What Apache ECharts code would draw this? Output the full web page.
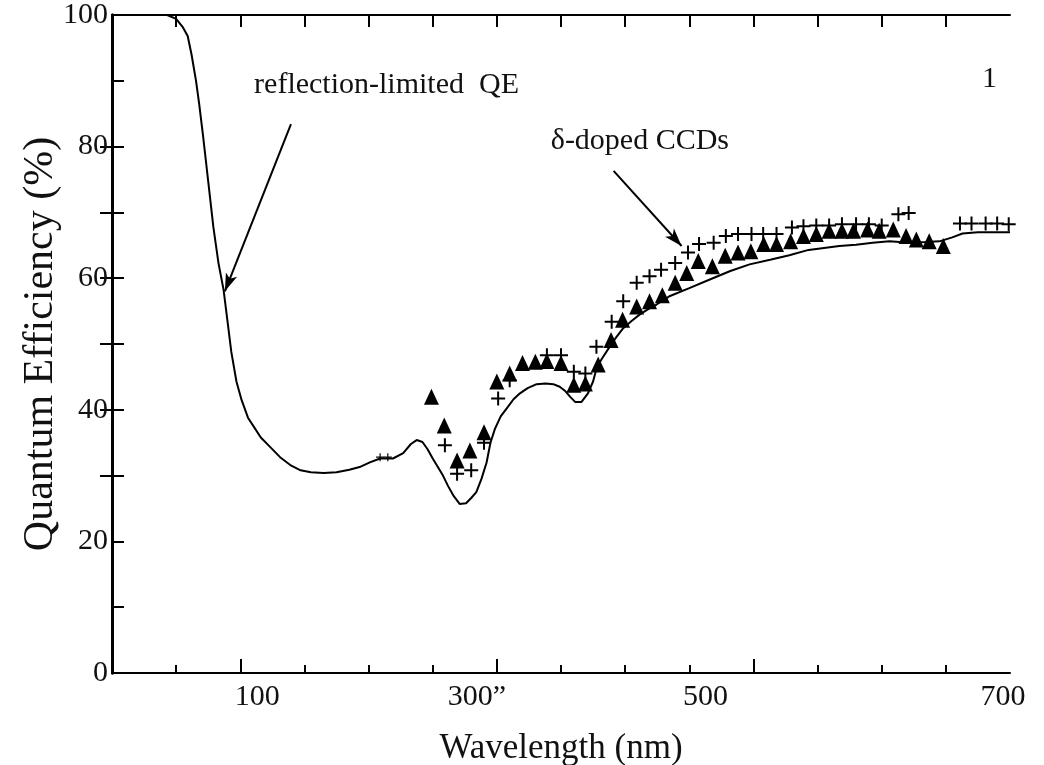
<!DOCTYPE html>
<html>
<head>
<meta charset="utf-8">
<title>Quantum Efficiency vs Wavelength</title>
<script src="https://cdn.jsdelivr.net/npm/echarts@6/dist/echarts.min.js"></script>
<style>
  html, body { margin: 0; padding: 0; background: #fff; }
  #chart { width: 1044px; height: 765px; }
</style>
</head>
<body>
<div id="chart"></div>
<script>
// reflection-limited QE curve: [wavelength nm, QE %]
const reflectionCurve = [
  [30, 100], [43, 100], [50, 99.4], [55, 98.2], [59, 96.8], [62, 94], [65.5, 90], [68, 86.4],
  [71, 81.6], [75, 74.7], [79, 67.8], [83, 62.3], [87, 58.2], [90, 53.5], [93, 48.8], [97, 44.3],
  [101, 41.5], [106, 38.8], [110, 37.6], [116, 35.8], [123, 34.4], [131, 32.8], [139, 31.6],
  [147, 30.8], [155, 30.5], [165, 30.4], [175, 30.5], [185, 30.9], [193, 31.3], [201, 32],
  [209, 32.6], [219, 32.6], [227, 33.4], [233, 34.8], [237.5, 35.4], [242, 35.1], [246, 34],
  [250, 32.6], [254, 31.3], [258, 30], [262, 28.4], [266, 27], [271, 25.7], [276, 25.8],
  [280, 26.6], [284, 27.5], [288, 29.5], [292, 32], [295, 35], [298.5, 37.1], [303, 39],
  [308, 40.3], [313, 41.6], [318, 42.5], [324, 43.3], [331, 43.9], [338, 44], [344, 43.9],
  [349, 43.5], [353, 42.9], [357, 42], [361, 41.2], [366, 41.2], [371, 42.5], [375, 44.3],
  [378, 46.5], [382, 47.8], [388, 49.6], [393, 51], [398.5, 52.4], [405, 53.5], [411.5, 54.5],
  [418, 55.3], [424.5, 56], [435, 57.3], [450, 58.5], [466, 59.8], [482, 61.1], [497, 62.1],
  [513, 62.8], [528, 63.5], [543, 64.3], [555, 64.6], [567, 64.9], [580, 65.1], [593, 65.4],
  [606, 65.6], [622, 65.4], [634, 65.5], [645, 65.6], [655, 66.2], [663, 66.8], [675, 67],
  [690, 67], [700, 67]
]

// delta-doped CCD measurements (triangles)
const deltaTriangles = [
  [249, 42], [259, 37.6], [269, 32.3], [279, 33.8], [290, 36.6], [300, 44.3], [310, 45.5],
  [320, 47.1], [330, 47.3], [339, 47.4], [350, 47.1], [360, 43.8], [369, 44], [379, 46.9],
  [389, 50.6], [398, 53.7], [409, 55.7], [419, 56.5], [429, 57.4], [439, 59.3], [448, 60.8],
  [457, 62.6], [468, 61.8], [478, 63.4], [488, 63.9], [498, 64.1], [508, 65.2], [518, 65.2],
  [529, 65.6], [539, 66.4], [549, 66.7], [559, 67.2], [569, 67.2], [578, 67.2], [589, 67.4],
  [598, 67.2], [609, 67.4], [619, 66.4], [627, 65.9], [637, 65.6], [648, 64.9]
]

// delta-doped CCD measurements (crosses)
const deltaCrosses = [
  [259.5, 34.6], [269, 30.3], [280, 30.8], [290, 35], [301, 41.7], [310, 44.5], [339, 48.3],
  [350, 48.3], [360, 45.8], [369, 45.5], [377.6, 49.6], [389.5, 53.4], [398.5, 56.5], [409, 59.3],
  [419, 60.3], [428, 61.3], [439, 62.3], [449, 63.9], [457.6, 65.2], [469, 65.4], [478.5, 66.4],
  [488, 66.7], [498.5, 66.7], [507.6, 66.7], [518, 66.7], [530, 67.7], [539, 67.9], [549, 68],
  [559, 68], [569, 68.2], [580, 68.2], [590, 68.2], [600, 68], [613, 69.7], [621, 69.9],
  [661, 68.3], [670, 68.3], [681, 68.3], [690, 68.3], [699, 68.2]
]
const smallCrosses = [[209, 32.8], [215, 32.8]]

const xTicks = [50, 100, 150, 200, 250, 300, 350, 400, 450, 500, 550, 600, 650]
const xMajorTicks = [100, 300, 500]
const xLabels = { 100: '100', 300: '300”', 500: '500', 700: '700' }
const yTicks = [10, 20, 30, 40, 50, 60, 70, 80, 90]
const yLabels = [0, 20, 40, 60, 80, 100]

const serif = '"Liberation Serif", "DejaVu Serif", serif'
const plusPath = 'path://M6,0h2v14h-2z M0,6h14v2h-14z'

const chart = echarts.init(document.getElementById('chart'))

chart.setOption({
  backgroundColor: '#ffffff',
  animation: false,
  grid: { left: 112, right: 34, top: 15, bottom: 92, containLabel: false, outerBoundsMode: 'none' },
  xAxis: [
    {
      type: 'value', min: 0, max: 700, position: 'bottom',
      name: 'Wavelength (nm)', nameLocation: 'middle', nameGap: 58, nameMoveOverlap: false,
      nameTextStyle: { fontFamily: serif, fontSize: 35, color: '#111' },
      axisLine: { show: true, lineStyle: { color: '#000', width: 2 } },
      axisTick: { show: true, inside: true, length: 8, customValues: xTicks, lineStyle: { color: '#000', width: 2 } },
      axisLabel: {
        customValues: [100, 300, 500, 700],
        margin: 9,
        fontFamily: serif, fontSize: 30, color: '#111',
        formatter: (v) => '{l' + v + '|' + xLabels[v] + '}',
        rich: {
          l100: { fontFamily: serif, fontSize: 30, padding: [0, 0, 0, 34] },
          l300: { fontFamily: serif, fontSize: 30, padding: [0, 40, 0, 0] },
          l500: { fontFamily: serif, fontSize: 30, padding: [0, 96, 0, 0] },
          l700: { fontFamily: serif, fontSize: 30, padding: [0, 14, 0, 0] }
        }
      },
      splitLine: { show: false }
    },
    {
      type: 'value', min: 0, max: 700, position: 'bottom',
      axisLine: { show: false },
      axisTick: { show: true, inside: true, length: 14, customValues: xMajorTicks, lineStyle: { color: '#000', width: 2 } },
      axisLabel: { show: false },
      splitLine: { show: false }
    },
    {
      type: 'value', min: 0, max: 700, position: 'top',
      axisLine: { show: true, lineStyle: { color: '#000', width: 2 } },
      axisTick: { show: true, inside: true, length: 12, customValues: xTicks, lineStyle: { color: '#000', width: 2 } },
      axisLabel: { show: false },
      splitLine: { show: false }
    }
  ],
  yAxis: [
    {
      type: 'value', min: 0, max: 100, position: 'left',
      name: 'Quantum Efficiency (%)', nameLocation: 'middle', nameGap: 50, nameRotate: 90, nameMoveOverlap: false,
      nameTextStyle: { fontFamily: serif, fontSize: 42, color: '#111' },
      axisLine: { show: true, lineStyle: { color: '#000', width: 3 } },
      axisTick: { show: true, inside: true, length: 12, customValues: yTicks, lineStyle: { color: '#000', width: 2 } },
      axisLabel: { customValues: yLabels, margin: 4, fontFamily: serif, fontSize: 30, color: '#111' },
      splitLine: { show: false }
    },
    {
      type: 'value', min: 0, max: 100, position: 'right',
      axisLine: { show: true, lineStyle: { color: '#000', width: 3 } },
      axisTick: { show: true, inside: true, length: 12, customValues: [30, 40, 50, 60, 70, 80], lineStyle: { color: '#000', width: 2 } },
      axisLabel: { show: false },
      splitLine: { show: false }
    }
  ],
  series: [
    {
      name: 'reflection-limited QE',
      type: 'line',
      data: reflectionCurve,
      showSymbol: false,
      smooth: false,
      lineStyle: { color: '#000', width: 2 },
      silent: true,
      markLine: {
        silent: true,
        symbol: ['none', 'arrow'],
        symbolSize: [9, 18],
        label: { show: false },
        lineStyle: { color: '#000', width: 2, type: 'solid' },
        data: [
          [{ coord: [139.5, 83.4] }, { coord: [88, 58] }],
          [{ coord: [391, 76.3] }, { coord: [444, 64.9] }]
        ]
      },
      markPoint: {
        silent: true,
        symbol: 'circle',
        symbolSize: 0,
        label: { show: true, color: '#111', fontFamily: serif, fontSize: 30 },
        data: [
          { coord: [214, 89.3], label: { formatter: 'reflection-limited  QE' } },
          { coord: [411.5, 80.9], label: { formatter: 'δ-doped CCDs' } },
          { coord: [684, 90.3], label: { formatter: '1' } }
        ]
      }
    },
    {
      name: 'δ-doped (triangles)',
      type: 'scatter',
      data: deltaTriangles,
      symbol: 'triangle',
      symbolSize: [15, 16],
      itemStyle: { color: '#000', opacity: 1 },
      z: 3
    },
    {
      name: 'δ-doped (crosses)',
      type: 'scatter',
      data: deltaCrosses,
      symbol: plusPath,
      symbolSize: 14,
      itemStyle: { color: '#000', opacity: 1 },
      z: 4
    },
    {
      name: 'small crosses',
      type: 'scatter',
      data: smallCrosses,
      symbol: plusPath,
      symbolSize: 8,
      itemStyle: { color: '#000', opacity: 1 },
      z: 4
    }
  ]
})
</script>
</body>
</html>
